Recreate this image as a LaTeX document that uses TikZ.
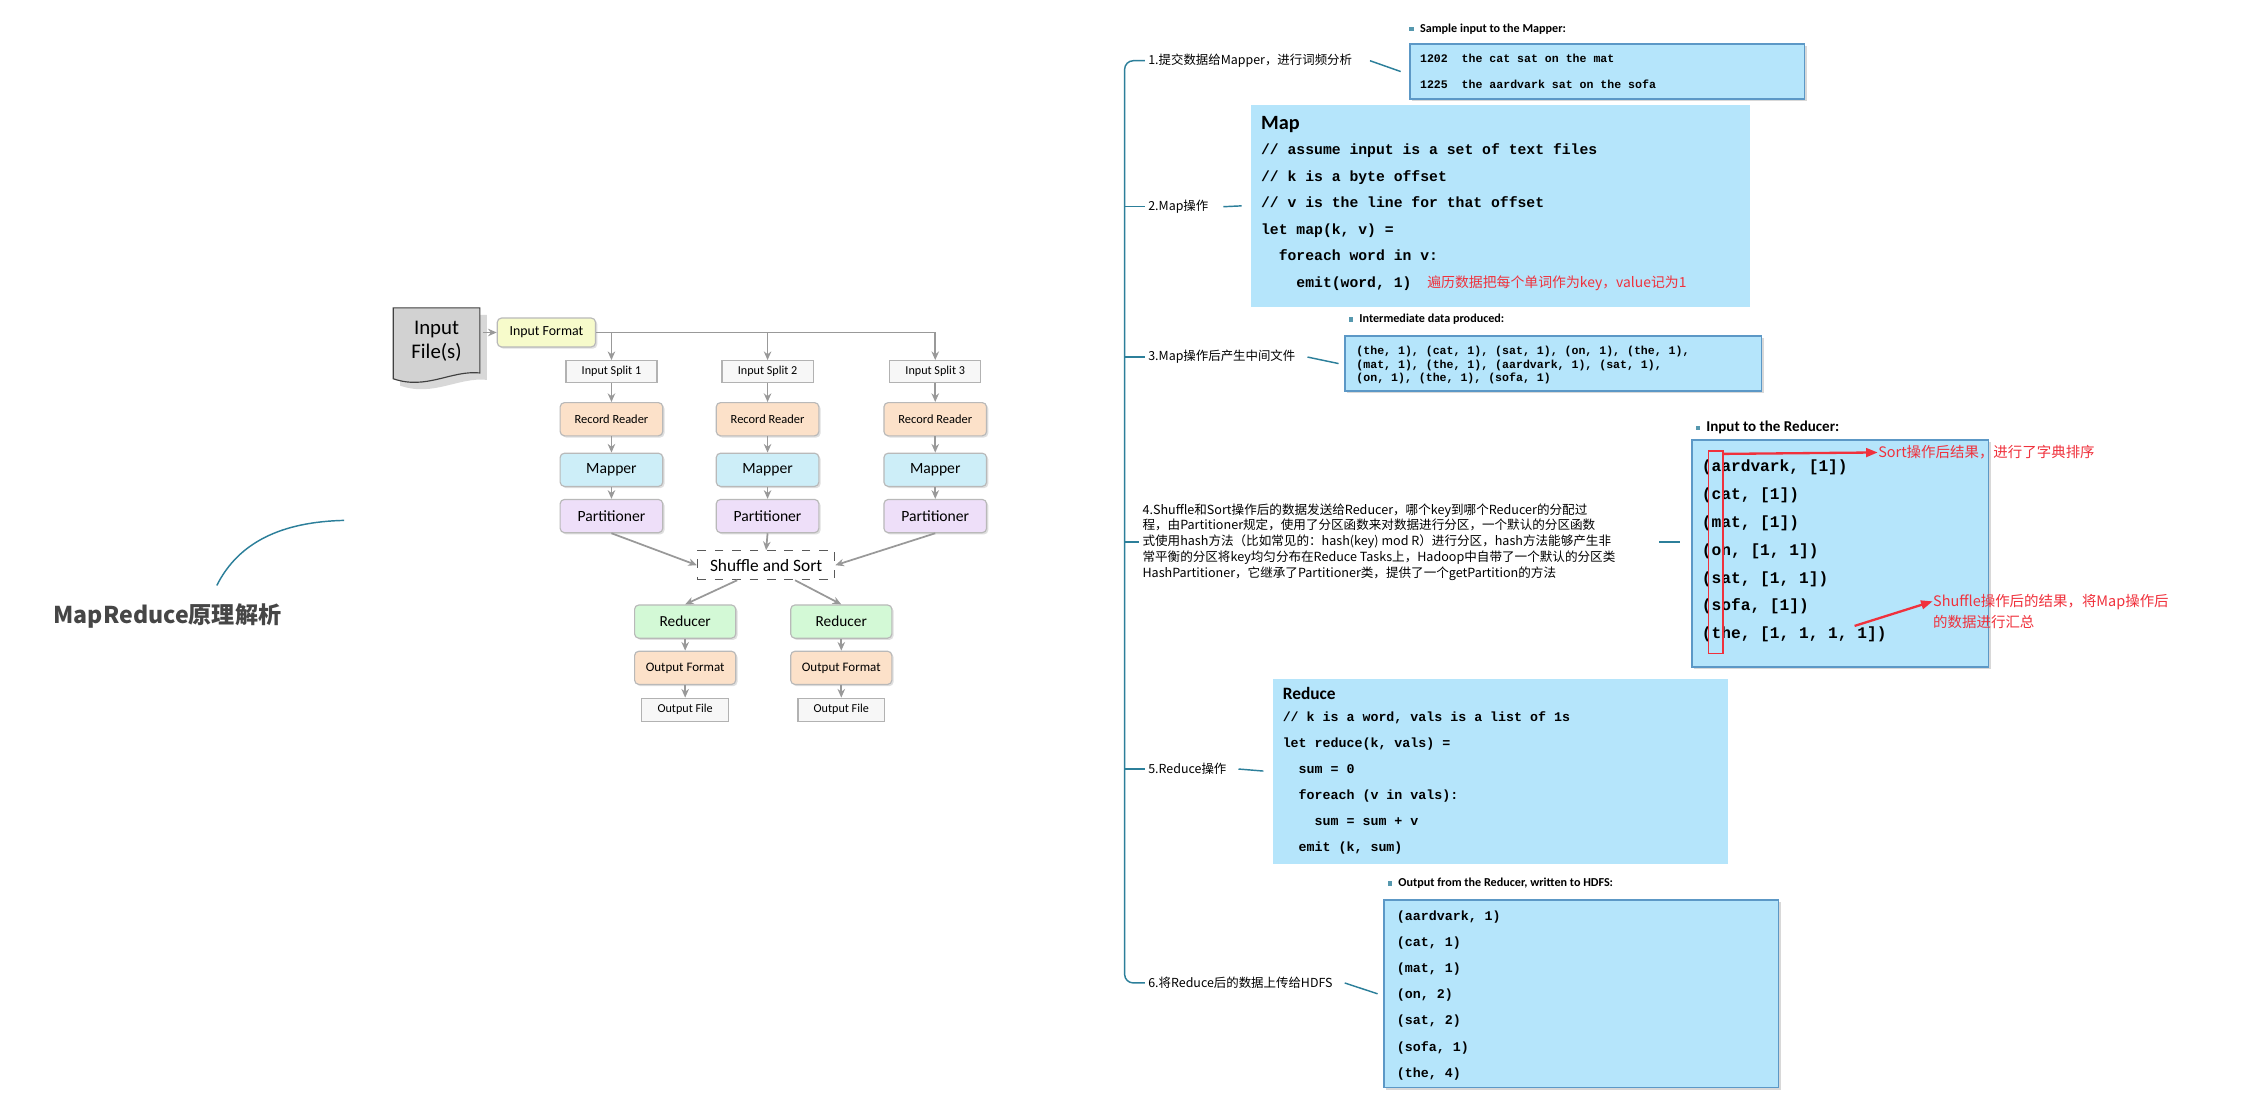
\documentclass[tikz,border=0pt]{standalone}
\usepackage{fontspec}
\setmainfont{Carlito}
\setsansfont{Carlito}
\setmonofont{Liberation Mono}
\newfontfamily\cjk{Noto Sans CJK SC}
\usetikzlibrary{shadows,arrows.meta,calc}
\definecolor{teal2}{HTML}{2C7F9A}
\definecolor{skyb}{HTML}{B5E5FB}
\definecolor{skyd}{HTML}{5C98C6}
\definecolor{fy}{HTML}{F7FBCB}
\definecolor{fo}{HTML}{FCE1C9}
\definecolor{fb}{HTML}{CDEEF8}
\definecolor{fp}{HTML}{EEDFF9}
\definecolor{fg}{HTML}{D3F9D6}
\definecolor{redc}{HTML}{F0313C}
\tikzset{
 fc/.style={draw=gray!55, rounded corners=1.5pt, font=\sffamily, inner sep=0pt,
   drop shadow={opacity=0.25,shadow xshift=0.6pt,shadow yshift=-0.6pt}},
 wb/.style={draw=gray!60, fill=gray!6, font=\sffamily\fontsize{4.2}{5}\selectfont, inner sep=0pt, minimum height=7.5pt},
 fa/.style={draw=gray!80, line width=0.6pt, -{Stealth[length=3pt,width=2.6pt]}},
 fl/.style={draw=gray!80, line width=0.6pt},
 item/.style={font=\cjk\fontsize{4.3}{5.5}\selectfont, anchor=west, inner sep=1pt},
 br/.style={draw=teal2, line width=0.5pt},
 cbox/.style={fill=skyb, anchor=north west, inner sep=0pt},
 sbox/.style={cbox, draw=skyd, line width=0.5pt, drop shadow={opacity=0.3,shadow xshift=0.8pt,shadow yshift=-0.8pt}},
 mono/.style={font=\ttfamily\bfseries\fontsize{4.3}{9}\selectfont, align=left, anchor=north west, inner sep=0pt},
 lab/.style={font=\sffamily\bfseries\fontsize{4.2}{5}\selectfont, anchor=west, inner sep=0pt},
 ann/.style={font=\cjk\fontsize{5}{7}\selectfont, text=redc, anchor=west, inner sep=0pt, align=left},
 ra/.style={draw=redc, line width=0.8pt, -{Triangle[length=4pt,width=3pt]}},
}
\newcommand{\bul}[1]{\fill[teal2!80] ($(#1)+(-7,-1.6)$) rectangle ++(3.2,3.2);}
\begin{document}
\begin{tikzpicture}[x=0.5pt,y=-0.5pt]
\useasboundingbox[fill=white] (0,0) rectangle (1560,767);
% ---------- title
\node[font=\cjk\bfseries\fontsize{8}{10}\selectfont, text=gray!55!black, anchor=west] (title) at (30,426) {MapReduce原理解析};
\coordinate (tc1) at (150,405);
\coordinate (tc2) at (238,360);
\draw[teal2, line width=0.5pt] (tc1) .. controls (165,375) and (195,361) .. (tc2);
% ---------- flowchart
\path[fill=gray!35, draw=gray!50!black, line width=0.4pt, drop shadow={opacity=0.3}] (272,213) -- (332,213) -- (332,258) .. controls (312,256) and (295,270) .. (272,262) -- cycle;
\node[font=\sffamily\fontsize{7.2}{8.5}\selectfont, align=center] (inf) at (302,236) {Input\\File(s)};
\node[fc, fill=fy, minimum width=34pt, minimum height=10pt, font=\sffamily\fontsize{4.8}{6}\selectfont] (if) at (378,230) {Input Format};
\coordinate (infe) at (334,230);
\draw[fa] (infe) -- (if.west);
\coordinate (j3) at (647,230);
\draw[fl] (if.east) -- (j3);
\foreach \i/\x in {1/423,2/531,3/647}{
  \node[wb, minimum width=31.5pt] (s\i) at (\x,257) {Input Split \i};
  \coordinate (j\i) at (\x,230);
  \draw[fa] (j\i) -- (s\i.north);
  \node[fc, fill=fo, minimum width=35.5pt, minimum height=11.5pt, font=\sffamily\fontsize{4.3}{5}\selectfont] (rr\i) at (\x,290) {Record Reader};
  \node[fc, fill=fb, minimum width=35.5pt, minimum height=11.5pt, font=\sffamily\fontsize{5.4}{6}\selectfont] (m\i) at (\x,325) {Mapper};
  \node[fc, fill=fp, minimum width=35.5pt, minimum height=11.5pt, font=\sffamily\fontsize{5.4}{6}\selectfont] (p\i) at (\x,357) {Partitioner};
  \draw[fa] (s\i) -- (rr\i);
  \draw[fa] (rr\i) -- (m\i);
  \draw[fa] (m\i) -- (p\i);
}
\node[draw=gray!70!black, dashed, fill=white, minimum width=47.5pt, minimum height=10pt, inner sep=0pt, font=\sffamily\fontsize{6}{7}\selectfont] (ss) at (530,391) {Shuffle and Sort};
\draw[fa] (p1.south) -- (ss.west);
\draw[fa] (p2.south) -- (ss.north);
\draw[fa] (p3.south) -- (ss.east);
\foreach \i/\x in {1/474,2/582}{
  \node[fc, fill=fg, minimum width=35pt, minimum height=11.5pt, font=\sffamily\fontsize{5.3}{6}\selectfont] (r\i) at (\x,430) {Reducer};
  \node[fc, fill=fo, minimum width=35pt, minimum height=11.5pt, font=\sffamily\fontsize{4.5}{5}\selectfont] (of\i) at (\x,462) {Output Format};
  \node[wb, minimum width=30pt, minimum height=8pt] (ofl\i) at (\x,491) {Output File};
  \draw[fa] (r\i) -- (of\i);
  \draw[fa] (of\i) -- (ofl\i);
}
\draw[fa] ($(ss.south)+(-20,0)$) -- (r1.north);
\draw[fa] ($(ss.south)+(20,0)$) -- (r2.north);
% ---------- right tree
\node[item] (it1) at (792,42) {1.提交数据给Mapper，进行词频分析};
\node[item] (it2) at (792,143) {2.Map操作};
\node[item] (it3) at (792,247) {3.Map操作后产生中间文件};
\node[item, align=left, font=\cjk\fontsize{4.35}{5.5}\selectfont] (it4) at (788,375) {4.Shuffle和Sort操作后的数据发送给Reducer，哪个key到哪个Reducer的分配过\\程，由Partitioner规定，使用了分区函数来对数据进行分区，一个默认的分区函数\\式使用hash方法（比如常见的：hash(key) mod R）进行分区，hash方法能够产生非\\常平衡的分区将key均匀分布在Reduce Tasks上，Hadoop中自带了一个默认的分区类\\HashPartitioner，它继承了Partitioner类，提供了一个getPartition的方法};
\node[item] (it5) at (792,532) {5.Reduce操作};
\node[item] (it6) at (792,680) {6.将Reduce后的数据上传给HDFS};
\draw[br, rounded corners=3pt] (it1.west) -- (778,42) -- (778,680) -- (it6.west);
\foreach \k/\y in {2/143,3/247,5/532}{ \draw[br] (778,\y) -- (it\k.west); }
\draw[br] (778,375) -- (788,375);
% boxes
\node[sbox, minimum width=136.5pt, minimum height=19pt] (b1) at (975,30) {};
\node[mono, font=\ttfamily\bfseries\fontsize{4}{9}\selectfont] at (982,37) {1202\ \ the cat sat on the mat\\1225\ \ the aardvark sat on the sofa};
\node[lab] (l1) at (982,20) {Sample input to the Mapper:}; \bul{l1.west}
\node[cbox, minimum width=172.5pt, minimum height=70pt] (b2) at (865,72) {};
\node[font=\sffamily\bfseries\fontsize{7}{8}\selectfont, anchor=west, inner sep=0pt] at (872,86) {Map};
\node[mono, font=\ttfamily\bfseries\fontsize{5.1}{9.2}\selectfont] at (872,99) {// assume input is a set of text files\\// k is a byte offset\\// v is the line for that offset\\let map(k, v) =\\\hspace*{1.2em}foreach word in v:\\\hspace*{2.4em}emit(word, 1)};
\node[ann, font=\cjk\fontsize{4.8}{6}\selectfont] at (987,196) {遍历数据把每个单词作为key，value记为1};
\node[sbox, minimum width=144pt, minimum height=19pt] (b3) at (930,232) {};
\node[mono, font=\ttfamily\bfseries\fontsize{4}{4.7}\selectfont] at (938,239) {(the, 1), (cat, 1), (sat, 1), (on, 1), (the, 1),\\(mat, 1), (the, 1), (aardvark, 1), (sat, 1),\\(on, 1), (the, 1), (sofa, 1)};
\node[lab] (l3) at (940,221) {Intermediate data produced:}; \bul{l3.west}
\node[sbox, minimum width=102.5pt, minimum height=78.5pt] (b4) at (1170,304) {};
\node[mono, font=\ttfamily\bfseries\fontsize{5.6}{9.6}\selectfont] at (1177,318) {(aardvark, [1])\\(cat, [1])\\(mat, [1])\\(on, [1, 1])\\(sat, [1, 1])\\(sofa, [1])\\(the, [1, 1, 1, 1])};
\node[lab, font=\sffamily\bfseries\fontsize{5.2}{6}\selectfont] (l4) at (1180,296) {Input to the Reducer:}; \bul{l4.west}
\coordinate (c4a) at (1148,375);
\coordinate (c4b) at (1162,375);
\draw[br] (c4a) -- (c4b);
\node[cbox, minimum width=157.5pt, minimum height=64pt] (b5) at (880,469) {};
\node[font=\sffamily\bfseries\fontsize{6}{7}\selectfont, anchor=west, inner sep=0pt] at (887,480) {Reduce};
\node[mono, font=\ttfamily\bfseries\fontsize{4.6}{9}\selectfont] at (887,492) {// k is a word, vals is a list of 1s\\let reduce(k, vals) =\\\hspace*{1.2em}sum = 0\\\hspace*{1.2em}foreach (v in vals):\\\hspace*{2.4em}sum = sum + v\\\hspace*{1.2em}emit (k, sum)};
\node[sbox, minimum width=136.5pt, minimum height=65pt] (b6) at (957,622) {};
\node[mono, font=\ttfamily\bfseries\fontsize{4.6}{9}\selectfont] at (966,630) {(aardvark, 1)\\(cat, 1)\\(mat, 1)\\(on, 2)\\(sat, 2)\\(sofa, 1)\\(the, 4)};
\node[lab] (l6) at (967,611) {Output from the Reducer, written to HDFS:}; \bul{l6.west}
% stubs item -> box
\draw[br] ([xshift=5pt]it1.east) -- ([xshift=-3pt]b1.west);
\draw[br] ([xshift=4pt]it2.east) -- ([xshift=-3pt]b2.west);
\draw[br] ([xshift=3pt]it3.east) -- ([xshift=-2pt]b3.west);
\draw[br] ([xshift=3pt]it5.east) -- ([xshift=-3pt]b5.west);
\draw[br] ([xshift=3pt]it6.east) -- ([xshift=-2pt]b6.west);
% red annotations
\draw[redc, line width=0.6pt] (1182,312) rectangle (1192,452);
\coordinate (ra1) at (1192,314);
\node[ann] (t1) at (1299,313) {Sort操作后结果，进行了字典排序};
\draw[ra] (ra1) -- (t1.west);
\coordinate (ra2) at (1283,433);
\node[ann] (t2) at (1337,423) {Shuffle操作后的结果，将Map操作后\\的数据进行汇总};
\draw[ra] (ra2) -- ($(t2.west)+(0,-7)$);
\end{tikzpicture}
\end{document}
